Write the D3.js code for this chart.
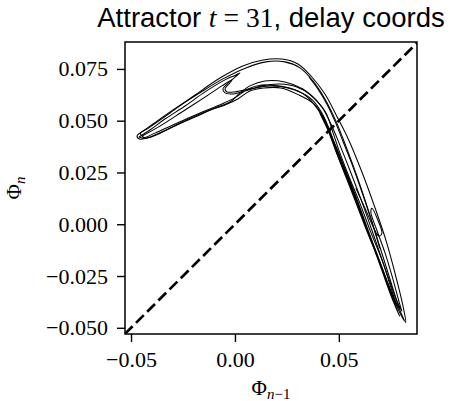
<!DOCTYPE html>
<html>
<head>
<meta charset="utf-8">
<script src="https://cdn.jsdelivr.net/npm/d3@7"></script>
<style>
  html, body { margin: 0; padding: 0; background: #fff; }
  svg { display: block; }
</style>
</head>
<body>
<div id="chart"></div>
<script>
// ---- data: traced strands of the attractor, (Phi_{n-1}, Phi_n) ----
const strandOuter = [
  [-0.0471,0.0426],[-0.0409,0.0469],[-0.0313,0.0537],[-0.0192,0.0624],[-0.0072,0.0706],
  [0.0038,0.0764],[0.0135,0.0793],[0.0226,0.0798],[0.0303,0.0774],[0.0370,0.0711],
  [0.0433,0.0629],[0.0490,0.0522],[0.0548,0.0406],[0.0611,0.0252],[0.0673,0.0082],
  [0.0731,-0.0092],[0.0779,-0.0271],[0.0808,-0.0392],[0.0822,-0.0474],
  [0.0798,-0.0426],[0.0760,-0.0319],[0.0712,-0.0184],[0.0654,-0.0039],[0.0601,0.0102],
  [0.0548,0.0232],[0.0500,0.0358],[0.0471,0.0445],[0.0438,0.0537],[0.0389,0.0600],
  [0.0327,0.0653],[0.0240,0.0687],[0.0144,0.0692],[0.0072,0.0668],[0.0024,0.0634],
  [-0.0024,0.0590],[-0.0096,0.0561],[-0.0192,0.0518],[-0.0313,0.0464],[-0.0409,0.0421],
  [-0.0457,0.0411]
];
const strandFoldA = [
  [-0.0462,0.0421],[-0.0409,0.0455],[-0.0337,0.0508],[-0.0240,0.0571],[-0.0144,0.0639],
  [-0.0048,0.0697],[0.0005,0.0721],[0.0024,0.0731],[-0.0005,0.0706],[-0.0038,0.0677],
  [-0.0058,0.0653],[-0.0048,0.0634],[-0.0014,0.0629],[0.0048,0.0643],[0.0130,0.0668],
  [0.0216,0.0677],[0.0298,0.0663],[0.0365,0.0624],[0.0418,0.0566],[0.0462,0.0484],
  [0.0505,0.0382],[0.0553,0.0261],[0.0606,0.0121],[0.0659,-0.0029],[0.0712,-0.0184],
  [0.0755,-0.0319],[0.0788,-0.0416],[0.0813,-0.0464],
  [0.0774,-0.0387],[0.0736,-0.0285],[0.0688,-0.0155],[0.0630,-0.0010],[0.0577,0.0126],
  [0.0529,0.0252],[0.0486,0.0368],[0.0452,0.0464],[0.0413,0.0547],[0.0361,0.0610],
  [0.0288,0.0648],[0.0207,0.0668],[0.0130,0.0672],[0.0063,0.0653],[0.0005,0.0614],
  [-0.0063,0.0581],[-0.0168,0.0537],[-0.0288,0.0484],[-0.0385,0.0440],[-0.0442,0.0416],
  [-0.0462,0.0421]
];
const strandInner = [
  [-0.0457,0.0440],[-0.0394,0.0484],[-0.0298,0.0552],[-0.0178,0.0629],[-0.0058,0.0702],
  [0.0053,0.0755],[0.0149,0.0784],[0.0240,0.0784],[0.0313,0.0755],[0.0375,0.0692],
  [0.0433,0.0605],[0.0486,0.0498],[0.0534,0.0377],[0.0587,0.0232],[0.0639,0.0077],
  [0.0692,-0.0092],[0.0745,-0.0261],[0.0779,-0.0368],[0.0798,-0.0411],
  [0.0779,-0.0387],[0.0745,-0.0310],[0.0697,-0.0184],[0.0639,-0.0044],[0.0587,0.0092],
  [0.0538,0.0218],[0.0495,0.0329],[0.0462,0.0426],[0.0428,0.0513],[0.0380,0.0581],
  [0.0308,0.0624],[0.0221,0.0658],[0.0139,0.0658],[0.0072,0.0643],[0.0014,0.0605],
  [-0.0048,0.0576],[-0.0144,0.0542],[-0.0264,0.0489],[-0.0370,0.0435],[-0.0433,0.0416],
  [-0.0457,0.0440]
];
const strandHook = [
  [-0.0447,0.0426],[-0.0361,0.0474],[-0.0255,0.0542],[-0.0144,0.0614],[-0.0063,0.0668],
  [-0.0014,0.0697],[-0.0029,0.0677],[-0.0048,0.0653],[-0.0038,0.0639],[0.0000,0.0639],
  [0.0072,0.0653],[0.0168,0.0668],[0.0264,0.0658],[0.0337,0.0624],[0.0394,0.0561],
  [0.0438,0.0484],[0.0486,0.0377],[0.0534,0.0256],[0.0587,0.0121],[0.0639,-0.0024],
  [0.0692,-0.0169],[0.0740,-0.0305],[0.0774,-0.0397],[0.0788,-0.0435],
  [0.0750,-0.0343],[0.0707,-0.0223],[0.0654,-0.0077],[0.0601,0.0068],[0.0548,0.0203],
  [0.0495,0.0329],[0.0447,0.0455],[0.0404,0.0547],
  [0.0418,0.0527],[0.0462,0.0426],[0.0514,0.0300],[0.0567,0.0164],[0.0620,0.0019],
  [0.0673,-0.0126],[0.0721,-0.0261],[0.0764,-0.0377],[0.0793,-0.0445]
];
const strandThin = [
  [0.0356,0.0711],[0.0399,0.0653],[0.0442,0.0581],[0.0481,0.0498],[0.0519,0.0402],
  [0.0563,0.0290],[0.0611,0.0155],[0.0659,0.0010],[0.0697,-0.0116]
];
const strandLoop = [
  [0.0582,0.0174],[0.0630,0.0068],[0.0668,-0.0019],[0.0692,-0.0058],[0.0707,-0.0044],
  [0.0688,0.0019],[0.0659,0.0077],[0.0654,0.0058],[0.0683,-0.0029],[0.0721,-0.0135],
  [0.0755,-0.0247],[0.0784,-0.0353],[0.0803,-0.0421]
];
const closedStrands = [strandOuter];
const openStrands = [strandFoldA, strandInner, strandHook, strandThin, strandLoop];

const xDomain = [-0.0529, 0.0876];
const yDomain = [-0.053, 0.088];
const xTicks = [-0.05, 0.00, 0.05];
const yTicks = [-0.050, -0.025, 0.000, 0.025, 0.050, 0.075];
const titleParts = ["Attractor ", "t", "=", "31", ", delay coords"];

// ---- layout ----
const W = 450, H = 401;
const m = {left: 125, top: 42, right: 33, bottom: 67};
const iw = W - m.left - m.right, ih = H - m.top - m.bottom;

const svg = d3.select("#chart").append("svg").attr("width", W).attr("height", H);
const x = d3.scaleLinear().domain(xDomain).range([m.left, m.left + iw]);
const y = d3.scaleLinear().domain(yDomain).range([m.top + ih, m.top]);

svg.append("defs").append("clipPath").attr("id", "clip")
  .append("rect").attr("x", m.left).attr("y", m.top).attr("width", iw).attr("height", ih);

const plot = svg.append("g").attr("clip-path", "url(#clip)");

const lineOpen = d3.line().x(d => x(d[0])).y(d => y(d[1])).curve(d3.curveCatmullRom.alpha(0.5));
const lineClosed = d3.line().x(d => x(d[0])).y(d => y(d[1])).curve(d3.curveCatmullRomClosed.alpha(0.5));

plot.selectAll("path.closed").data(closedStrands).join("path")
  .attr("class", "closed").attr("d", lineClosed)
  .attr("fill", "none").attr("stroke", "#000").attr("stroke-width", 1.05);
plot.selectAll("path.open").data(openStrands).join("path")
  .attr("class", "open").attr("d", lineOpen)
  .attr("fill", "none").attr("stroke", "#000").attr("stroke-width", 1.05);

// diagonal y = x
const dLo = Math.min(xDomain[0], yDomain[0]), dHi = Math.max(xDomain[1], yDomain[1]);
plot.append("line")
  .attr("x1", x(dLo)).attr("y1", y(dLo)).attr("x2", x(dHi)).attr("y2", y(dHi))
  .attr("stroke", "#000").attr("stroke-width", 2.7).attr("stroke-dasharray", "11,4.8");

// axes
const fmtMinus = s => s.replace("-", "\u2212");
const xAxis = d3.axisBottom(x).tickValues(xTicks).tickSize(8).tickSizeOuter(0).tickPadding(9)
  .tickFormat(d => fmtMinus(d3.format(".2f")(d)));
const yAxis = d3.axisLeft(y).tickValues(yTicks).tickSize(8).tickSizeOuter(0).tickPadding(9)
  .tickFormat(d => fmtMinus(d3.format(".3f")(d)));

const gx = svg.append("g").attr("transform", `translate(0,${m.top + ih})`).call(xAxis);
const gy = svg.append("g").attr("transform", `translate(${m.left},0)`).call(yAxis);
[gx, gy].forEach(g => {
  g.select(".domain").remove();
  g.selectAll(".tick line").attr("stroke", "#000").attr("stroke-width", 1.4);
  g.selectAll(".tick text").attr("fill", "#000")
    .style("font-family", "'Liberation Serif', 'Times New Roman', serif").style("font-size", "22px");
});

// frame
svg.append("rect").attr("x", m.left).attr("y", m.top).attr("width", iw).attr("height", ih)
  .attr("fill", "none").attr("stroke", "#000").attr("stroke-width", 1.5);

// title
const cx = m.left + iw / 2;
const title = svg.append("text").attr("x", cx).attr("y", 27).attr("text-anchor", "middle")
  .style("font-family", "'Liberation Sans', Arial, sans-serif").style("font-size", "27.5px").attr("fill", "#000");
title.append("tspan").text(titleParts[0]);
title.append("tspan").text(titleParts[1]).style("font-family", "'Liberation Serif', serif").style("font-style", "italic");
title.append("tspan").text(titleParts[2]).attr("dx", 7).style("font-family", "'Liberation Serif', serif");
title.append("tspan").text(titleParts[3]).attr("dx", 7).style("font-family", "'Liberation Serif', serif");
title.append("tspan").text(titleParts[4]);

// axis labels
const serif = "'Liberation Serif', 'Times New Roman', serif";
const xl = svg.append("text").attr("x", cx).attr("y", 395).attr("text-anchor", "middle")
  .style("font-family", serif).style("font-size", "21px").attr("fill", "#000");
xl.append("tspan").text("\u03A6");
xl.append("tspan").text("n").style("font-style", "italic").style("font-size", "15px").attr("dy", 4);
xl.append("tspan").text("\u22121").style("font-size", "15px");

const yl = svg.append("text").attr("transform", `translate(21,${m.top + ih / 2}) rotate(-90)`)
  .attr("text-anchor", "middle")
  .style("font-family", serif).style("font-size", "21px").attr("fill", "#000");
yl.append("tspan").text("\u03A6");
yl.append("tspan").text("n").style("font-style", "italic").style("font-size", "15px").attr("dy", 4);
</script>
</body>
</html>
